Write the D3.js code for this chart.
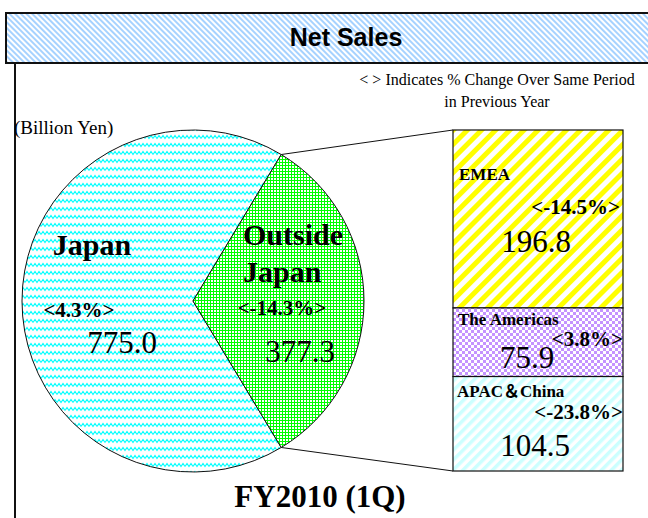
<!DOCTYPE html>
<html>
<head>
<meta charset="utf-8">
<script src="https://d3js.org/d3.v7.min.js"></script>
<style>
  body { margin: 0; background: white; }
</style>
</head>
<body>
<script>
  // data
  const regions = ["Japan", "Outside Japan"];
  const regionSales = [775.0, 377.3];
  const regionChange = ["<4.3%>", "<-14.3%>"];

  const areas = ["EMEA", "The Americas", "APAC＆China"];
  const areaSales = [196.8, 75.9, 104.5];
  const areaChange = ["<-14.5%>", "<3.8%>", "<-23.8%>"];

  const periodLabel = "FY2010 (1Q)";

  const serif = "'Liberation Serif', 'Times New Roman', 'Noto Sans CJK JP', serif";
  const fmt = d3.format(".1f");

  const svg = d3.select("body")
    .append("svg")
    .attr("width", 648)
    .attr("height", 518);

  const defs = svg.append("defs");

  // stripes pattern helper
  function stripes(id, size, band, color, angle) {
    const p = defs.append("pattern")
      .attr("id", id)
      .attr("patternUnits", "userSpaceOnUse")
      .attr("width", size)
      .attr("height", size)
      .attr("patternTransform", `rotate(${angle})`);
    p.append("rect").attr("width", size).attr("height", size).attr("fill", "white");
    p.append("rect").attr("width", band).attr("height", size).attr("fill", color);
  }
  // white squares on a coloured ground
  function dots(id, size, hole, color) {
    const p = defs.append("pattern")
      .attr("id", id)
      .attr("patternUnits", "userSpaceOnUse")
      .attr("width", size)
      .attr("height", size);
    p.append("rect").attr("width", size).attr("height", size).attr("fill", color);
    p.append("rect").attr("width", hole).attr("height", hole).attr("fill", "white");
  }
  function checker(id, cell, color) {
    const p = defs.append("pattern")
      .attr("id", id)
      .attr("patternUnits", "userSpaceOnUse")
      .attr("width", cell * 2)
      .attr("height", cell * 2);
    p.append("rect").attr("width", cell * 2).attr("height", cell * 2).attr("fill", color);
    p.append("rect").attr("width", cell).attr("height", cell).attr("fill", "white");
    p.append("rect").attr("x", cell).attr("y", cell).attr("width", cell).attr("height", cell).attr("fill", "white");
  }

  stripes("titleFill", 4, 2, "#a6d2ff", -45);
  stripes("emeaFill", 10, 5, "#ffff00", 45);
  stripes("apacFill", 7, 3.5, "#ccffff", 45);
  dots("greenFill", 3, 2, "#00ff00");
  checker("purpleFill", 3, "#c493ff");

  const wave = defs.append("pattern")
    .attr("id", "waveFill")
    .attr("patternUnits", "userSpaceOnUse")
    .attr("width", 8)
    .attr("height", 8);
  wave.append("rect").attr("width", 8).attr("height", 8).attr("fill", "white");
  wave.append("path")
    .attr("d", "M0,5.5 L2,2.5 L4,5.5 L6,2.5 L8,5.5")
    .attr("fill", "none")
    .attr("stroke", "#00ffff")
    .attr("stroke-width", 1.2);

  const pieFills = ["url(#waveFill)", "url(#greenFill)"];
  const barFills = ["url(#emeaFill)", "url(#purpleFill)", "url(#apacFill)"];

  // title bar
  svg.append("rect")
    .attr("x", 6).attr("y", 13)
    .attr("width", 660).attr("height", 50)
    .attr("fill", "url(#titleFill)")
    .attr("stroke", "#111")
    .attr("stroke-width", 2);

  svg.append("text")
    .attr("x", 346).attr("y", 46)
    .attr("text-anchor", "middle")
    .attr("font-family", "'Liberation Sans', Arial, sans-serif")
    .attr("font-weight", 700)
    .attr("font-size", 25)
    .text("Net Sales");

  // frame line on the left
  svg.append("line")
    .attr("x1", 15).attr("x2", 15)
    .attr("y1", 63).attr("y2", 518)
    .attr("stroke", "#111")
    .attr("stroke-width", 2);

  // notes
  svg.append("text")
    .attr("x", 497).attr("y", 85)
    .attr("text-anchor", "middle")
    .attr("font-family", serif)
    .attr("font-size", 16)
    .text("< > Indicates % Change Over Same Period");
  svg.append("text")
    .attr("x", 497).attr("y", 107)
    .attr("text-anchor", "middle")
    .attr("font-family", serif)
    .attr("font-size", 16)
    .text("in Previous Year");
  svg.append("text")
    .attr("x", 14).attr("y", 134)
    .attr("font-family", serif)
    .attr("font-size", 19)
    .text("(Billion Yen)");

  // pie
  const cx = 193, cy = 301, r = 171;
  const total = d3.sum(regionSales);
  const f = regionSales[1] / total;
  const pie = d3.pie()
    .sort(null)
    .startAngle(Math.PI / 2 + f * Math.PI)
    .endAngle(Math.PI / 2 + f * Math.PI + 2 * Math.PI);
  const arcs = pie(regionSales);
  const arc = d3.arc().innerRadius(0).outerRadius(r);

  const pieG = svg.append("g").attr("transform", `translate(${cx},${cy})`);
  pieG.selectAll("path")
    .data(arcs)
    .join("path")
    .attr("d", arc)
    .attr("fill", (d, i) => pieFills[i])
    .attr("stroke", "#111")
    .attr("stroke-width", 1);

  // stacked bar for Outside Japan
  const barX = 453, barW = 170;
  const barTotal = d3.sum(areaSales);
  const yBar = d3.scaleLinear().domain([0, barTotal]).range([130, 471]);
  const starts = d3.cumsum([0, ...areaSales]);

  // connector lines from pie slice edges to bar
  const outside = arcs[1];
  const pt = a => [cx + r * Math.sin(a), cy - r * Math.cos(a)];
  const pTop = pt(outside.startAngle), pBot = pt(outside.endAngle);
  svg.append("line")
    .attr("x1", pTop[0]).attr("y1", pTop[1])
    .attr("x2", barX).attr("y2", yBar(0))
    .attr("stroke", "#111");
  svg.append("line")
    .attr("x1", pBot[0]).attr("y1", pBot[1])
    .attr("x2", barX).attr("y2", yBar(barTotal))
    .attr("stroke", "#111");

  svg.selectAll(".seg")
    .data(areaSales)
    .join("rect")
    .attr("class", "seg")
    .attr("x", barX)
    .attr("y", (d, i) => yBar(starts[i]))
    .attr("width", barW)
    .attr("height", (d, i) => yBar(starts[i] + d) - yBar(starts[i]))
    .attr("fill", (d, i) => barFills[i])
    .attr("stroke", "#111")
    .attr("stroke-width", 1.2);

  // pie labels (offsets from pie centre)
  const pieLabelPos = [
    { name: [-101, -46], anchor: "middle", pct: [-114, 16], val: [-71, 52] },
    { name: [50, -56], anchor: "start", pct: [89, 14], val: [107, 61] }
  ];
  const pieNames = [["Japan"], ["Outside", "Japan"]];

  regions.forEach((reg, i) => {
    const p = pieLabelPos[i];
    pieNames[i].forEach((line, k) => {
      pieG.append("text")
        .attr("x", p.name[0]).attr("y", p.name[1] + k * 37)
        .attr("text-anchor", p.anchor)
        .attr("font-family", serif)
        .attr("font-weight", 700)
        .attr("font-size", 30)
        .text(line);
    });
    pieG.append("text")
      .attr("x", p.pct[0]).attr("y", p.pct[1])
      .attr("text-anchor", "middle")
      .attr("font-family", serif)
      .attr("font-weight", 700)
      .attr("font-size", 21)
      .text(regionChange[i]);
    pieG.append("text")
      .attr("x", p.val[0]).attr("y", p.val[1])
      .attr("text-anchor", "middle")
      .attr("font-family", serif)
      .attr("font-size", 31)
      .text(fmt(regionSales[i]));
  });

  // bar labels (offsets from segment top-left)
  const barLabelPos = [
    { name: [6, 50], pct: [167, 84], val: [83, 122] },
    { name: [5, 17], pct: [170, 38], val: [74, 60] },
    { name: [4, 20.5], pct: [170, 42.5], val: [82, 79.5] }
  ];

  areas.forEach((a, i) => {
    const p = barLabelPos[i];
    const y0 = yBar(starts[i]);
    svg.append("text")
      .attr("x", barX + p.name[0]).attr("y", y0 + p.name[1])
      .attr("font-family", serif)
      .attr("font-weight", 700)
      .attr("font-size", 17)
      .text(a);
    svg.append("text")
      .attr("x", barX + p.pct[0]).attr("y", y0 + p.pct[1])
      .attr("text-anchor", "end")
      .attr("font-family", serif)
      .attr("font-weight", 700)
      .attr("font-size", 21)
      .text(areaChange[i]);
    svg.append("text")
      .attr("x", barX + p.val[0]).attr("y", y0 + p.val[1])
      .attr("text-anchor", "middle")
      .attr("font-family", serif)
      .attr("font-size", 31)
      .text(fmt(areaSales[i]));
  });

  // period label
  svg.append("text")
    .attr("x", 320).attr("y", 507)
    .attr("text-anchor", "middle")
    .attr("font-family", serif)
    .attr("font-weight", 700)
    .attr("font-size", 31)
    .text(periodLabel);
</script>
</body>
</html>
